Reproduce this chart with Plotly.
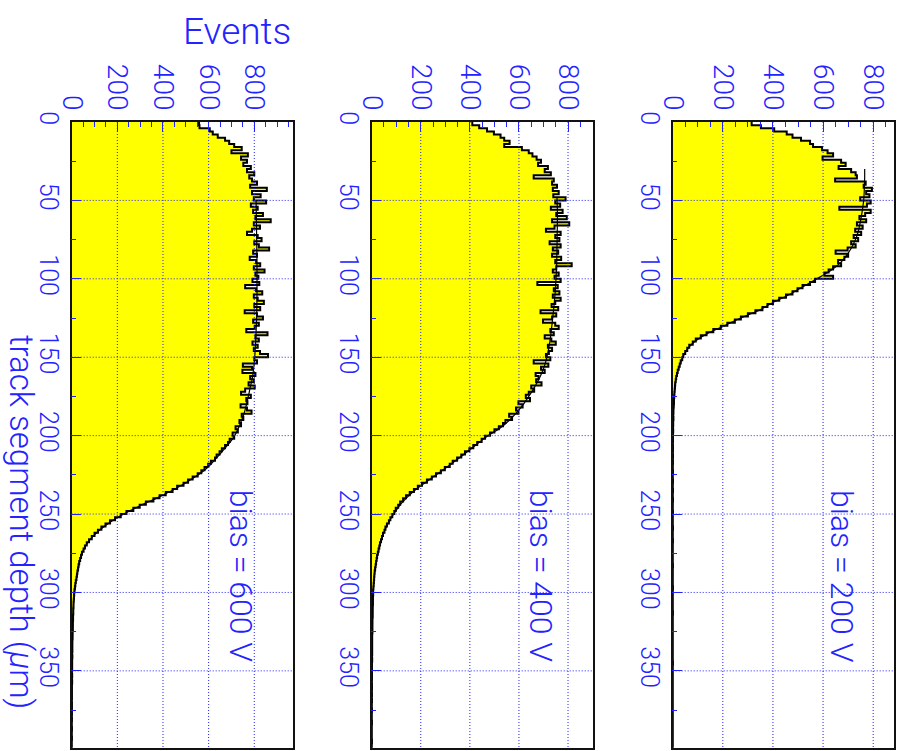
import plotly.graph_objects as go

# Track-segment depth histograms (2 um bins from 0 to 400 um) for three bias voltages
BIN_WIDTH = 2.0
bias_labels = ["bias = 600 V", "bias = 400 V", "bias = 200 V"]

events_600 = [
    558, 560, 605, 618, 640, 672, 690, 712, 745, 700,
    772, 742, 768, 752, 785, 768, 800, 778, 790, 812,
    782, 855, 790, 828, 798, 852, 785, 815, 795, 838,
    805, 872, 798, 825, 790, 768, 815, 832, 800, 820,
    865, 795, 812, 780, 808, 826, 798, 845, 805, 818,
    792, 822, 760, 808, 835, 798, 815, 842, 800, 826,
    758, 812, 838, 795, 820, 802, 765, 858, 805, 820,
    792, 815, 798, 825, 860, 800, 812, 750, 790, 748,
    805, 782, 798, 775, 802, 760, 742, 785, 765, 770,
    740, 768, 788, 745, 752, 735, 742, 718, 728, 705,
    712, 692, 685, 672, 658, 648, 635, 628, 610, 598,
    582, 568, 552, 530, 510, 490, 462, 442, 412, 385,
    358, 325, 298, 270, 240, 215, 190, 168, 148, 130,
    115, 100, 88, 76, 66, 58, 52, 45, 41, 37,
    33, 30, 28, 25, 23, 21, 18, 16, 14, 12,
    11, 10, 9, 8, 8, 7, 7, 6, 6, 5,
    5, 5, 4, 4, 4, 3, 3, 3, 3, 2,
    3, 2, 2, 2, 2, 1, 2, 1, 2, 1,
    1, 1, 1, 1, 0, 1, 1, 0, 1, 0,
    1, 0, 0, 1, 0, 0, 1, 0, 0, 0,
]

events_400 = [
    410, 438, 470, 498, 525, 540, 562, 540, 612, 640,
    655, 672, 690, 678, 718, 705, 730, 660, 742, 735,
    755, 738, 762, 740, 790, 748, 768, 730, 778, 752,
    795, 735, 805, 745, 710, 770, 748, 765, 725, 770,
    738, 760, 735, 772, 748, 815, 752, 738, 762, 745,
    770, 675, 758, 742, 765, 738, 770, 748, 733, 760,
    688, 752, 735, 698, 748, 762, 728, 742, 705, 732,
    750, 718, 735, 722, 710, 728, 660, 720, 690, 705,
    668, 680, 670, 692, 650, 662, 640, 628, 645, 598,
    615, 588, 598, 560, 572, 545, 535, 518, 500, 482,
    462, 448, 430, 414, 398, 380, 365, 348, 330, 318,
    298, 282, 262, 245, 225, 205, 188, 172, 155, 140,
    128, 116, 108, 98, 92, 84, 76, 70, 62, 56,
    52, 46, 42, 38, 34, 31, 28, 25, 22, 20,
    18, 16, 14, 12, 11, 10, 9, 8, 7, 6,
    6, 5, 5, 5, 4, 4, 4, 4, 3, 3,
    3, 3, 3, 2, 2, 2, 2, 2, 2, 2,
    1, 2, 1, 1, 1, 1, 1, 1, 0, 1,
    1, 0, 1, 0, 1, 0, 0, 1, 0, 0,
    0, 1, 0, 0, 0, 0, 0, 1, 0, 0,
]

events_200 = [
    315, 352, 405, 455, 478, 512, 548, 560, 596, 618,
    640, 598, 672, 690, 662, 712, 730, 735, 648, 770,
    762, 795, 772, 785, 748, 790, 775, 665, 790, 768,
    745, 772, 735, 758, 728, 752, 722, 740, 712, 730,
    698, 650, 700, 685, 660, 672, 640, 622, 605, 640,
    568, 548, 518, 498, 478, 452, 425, 400, 378, 358,
    330, 300, 272, 248, 218, 192, 162, 135, 112, 92,
    80, 66, 58, 50, 42, 38, 32, 28, 24, 20,
    17, 14, 12, 10, 9, 8, 7, 6, 5, 5,
    4, 3, 3, 2, 3, 2, 2, 1, 2, 1,
    1, 1, 0, 1, 1, 0, 1, 0, 1, 0,
    0, 1, 0, 0, 1, 0, 0, 1, 0, 0,
    1, 0, 0, 0, 1, 0, 0, 0, 0, 1,
    0, 0, 0, 1, 0, 0, 0, 0, 0, 0,
    0, 1, 0, 0, 0, 0, 0, 0, 1, 0,
    0, 0, 0, 0, 0, 0, 1, 0, 0, 0,
    0, 0, 0, 0, 0, 0, 0, 0, 0, 0,
    0, 0, 1, 0, 0, 0, 0, 0, 0, 0,
    0, 0, 0, 0, 0, 0, 0, 0, 0, 0,
    0, 0, 0, 0, 0, 0, 0, 0, 0, 0,
]

# Fitted depth profiles (depth in um, events)
fit_depth_600 = [50, 60, 70, 80, 90, 100, 110, 120, 130, 140, 150, 160, 165, 170, 175,
                 180, 185, 190, 195, 200, 205, 210, 215, 220, 225, 230, 235, 240, 245,
                 250, 255, 260, 265, 270, 275, 280, 285, 290, 295, 300, 305, 310, 320,
                 330, 340, 350, 370, 399]
fit_600 = [808, 809, 810, 811, 812, 812, 812, 811, 809, 806, 802, 795, 789, 781, 774,
           766, 757, 745, 731, 714, 690, 660, 630, 598, 555, 500, 440, 370, 295,
           228, 170, 124, 88, 62, 45, 35, 28, 22, 16, 12, 9, 7, 5,
           3, 2, 1, 0.5, 0.2]

fit_depth_400 = [48, 60, 70, 80, 90, 100, 110, 120, 130, 140, 150, 155, 160, 165, 170,
                 175, 180, 185, 190, 195, 200, 205, 210, 215, 220, 225, 230, 235, 240,
                 245, 250, 255, 260, 265, 270, 275, 280, 285, 290, 295, 300, 310, 320,
                 330, 340, 360, 399]
fit_400 = [755, 757, 756, 755, 754, 751, 747, 741, 734, 726, 714, 705, 693, 678, 660,
           640, 618, 592, 562, 525, 475, 432, 392, 350, 308, 262, 218, 175, 140,
           112, 90, 70, 54, 43, 33, 25, 19, 14, 10, 8, 6, 4, 3,
           2, 1, 0.5, 0.2]

fit_depth_200 = [30, 35, 40, 45, 50, 55, 60, 65, 70, 75, 80, 85, 90, 95, 100, 105, 110,
                 115, 120, 125, 130, 135, 140, 145, 150, 155, 160, 165, 170, 175, 180,
                 190, 200, 220, 260, 320, 399]
fit_200 = [766, 766, 765, 764, 762, 758, 753, 747, 740, 729, 714, 694, 668, 628, 575, 520, 466,
           402, 345, 272, 205, 138, 88, 58, 40, 28, 18, 12, 8, 6, 4,
           2, 1, 0.5, 0.2, 0.1, 0]

event_axis_max = [971, 903, 883]
depth_axis_max = 399
event_ticks = [0, 200, 400, 600, 800]
depth_ticks = [0, 50, 100, 150, 200, 250, 300, 350]

panels = [
    (events_600, fit_depth_600, fit_600),
    (events_400, fit_depth_400, fit_400),
    (events_200, fit_depth_200, fit_200),
]

W, H = 903, 751
x_domains = [(71.7, 293.3), (371.7, 593.3), (672.7, 894.0)]
y_top, y_bot = 122.0, 747.7
y_domain = [1 - y_bot / H, 1 - y_top / H]

BLUE = "#2323ff"
FONT = "Roboto"
WEIGHT = 300

fig = go.Figure()
shapes = []
annotations = []

for k, (counts, fdep, fval) in enumerate(panels):
    suffix = "" if k == 0 else str(k + 1)
    xa, ya = "x" + suffix, "y" + suffix
    lower_edges = [i * BIN_WIDTH for i in range(len(counts))]
    step_y = lower_edges + [len(counts) * BIN_WIDTH]
    step_x = list(counts) + [counts[-1]]

    fig.add_trace(go.Scatter(
        x=step_x, y=step_y, xaxis=xa, yaxis=ya, mode="lines",
        line=dict(color="black", width=2.0, shape="vh"),
        fill="tozerox", fillcolor="#ffff00", hoverinfo="skip",
    ))
    fig.add_trace(go.Scatter(
        x=fval, y=fdep, xaxis=xa, yaxis=ya, mode="lines",
        line=dict(color="black", width=1.2, shape="spline", smoothing=0.6),
        hoverinfo="skip",
    ))

    x0, x1 = x_domains[k]
    common_tick = dict(
        ticks="inside", tickcolor=BLUE, ticklen=10, tickwidth=1,
        tickangle=90,
        showgrid=False, zeroline=False, showline=True, linecolor="#111111",
        linewidth=1.5, mirror=True, layer="above traces", automargin=False,
    )
    fig.layout["xaxis" + suffix] = dict(
        domain=[x0 / W, x1 / W], anchor=ya, side="top",
        range=[0, event_axis_max[k]], tickmode="array", tickvals=event_ticks,
        ticktext=[str(v) for v in event_ticks], ticklabelstandoff=0,
        tickfont=dict(family=FONT, size=28, color=BLUE, weight=WEIGHT),
        minor=dict(ticks="inside", dtick=50, tick0=0, ticklen=5, tickcolor=BLUE),
        **common_tick,
    )
    fig.layout["yaxis" + suffix] = dict(
        domain=y_domain, anchor=xa, range=[depth_axis_max, 0],
        tickmode="array", tickvals=depth_ticks,
        ticktext=[str(v) for v in depth_ticks], ticklabelstandoff=0,
        tickfont=dict(family=FONT, size=25, color=BLUE, weight=WEIGHT),
        minor=dict(ticks="inside", dtick=25, tick0=0, ticklen=5, tickcolor=BLUE),
        **common_tick,
    )

    # dotted grid drawn over the filled histogram
    for v in event_ticks[1:]:
        shapes.append(dict(type="line", xref=xa, yref=ya, x0=v, x1=v, y0=0,
                           y1=depth_axis_max, layer="above",
                           line=dict(color=BLUE, width=1, dash="1px,2px")))
    for d in depth_ticks[1:]:
        shapes.append(dict(type="line", xref=xa, yref=ya, x0=0,
                           x1=event_axis_max[k], y0=d, y1=d, layer="above",
                           line=dict(color=BLUE, width=1, dash="1px,2px")))

    annotations.append(dict(
        text=bias_labels[k], xref="paper", yref="paper",
        x=(x1 - 52) / W, y=1 - 576 / H, xanchor="center", yanchor="middle",
        textangle=90, showarrow=False,
        font=dict(family=FONT, size=32, color=BLUE, weight=WEIGHT),
    ))

annotations.append(dict(
    text="Events", xref="paper", yref="paper", x=293 / W, y=1 - 32 / H,
    xanchor="right", yanchor="middle", showarrow=False,
    font=dict(family=FONT, size=37, color=BLUE, weight=WEIGHT),
))
annotations.append(dict(
    text="track segment depth (<i>μ</i>m)", xref="paper", yref="paper",
    x=22 / W, y=1 - 522 / H, xanchor="center", yanchor="middle",
    textangle=90, showarrow=False,
    font=dict(family=FONT, size=33, color=BLUE, weight=WEIGHT),
))

fig.update_layout(
    width=W, height=H, margin=dict(l=0, r=0, t=0, b=0, autoexpand=False),
    paper_bgcolor="white", plot_bgcolor="white", showlegend=False,
    shapes=shapes, annotations=annotations,
)

fig.write_html("out.html")
